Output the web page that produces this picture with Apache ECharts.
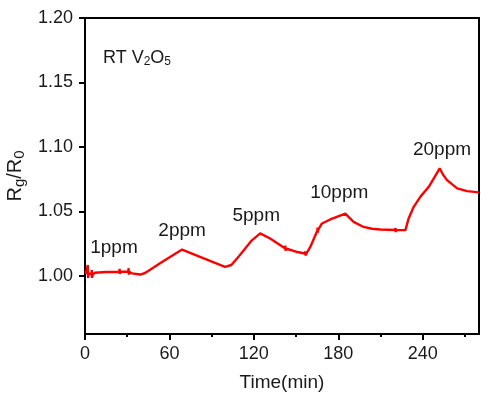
<!DOCTYPE html>
<html>
<head>
<meta charset="utf-8">
<script src="https://cdn.jsdelivr.net/npm/echarts@6/dist/echarts.min.js"></script>
<style>
  html, body { margin: 0; padding: 0; background: #fff; }
  #chart { width: 488px; height: 404px; }
</style>
</head>
<body>
<div id="chart"></div>
<script>
// response curve
var time = [0.5, 1.8, 2.0, 2.2, 2.6, 4.6, 4.8, 5.0, 5.4, 7.0, 15, 24.4, 24.6, 24.8, 25.0,
  30.8, 31.0, 31.2, 31.4, 33.4, 39.3, 42.7, 55, 69, 84, 99.5, 99.7, 99.9, 100.2, 104,
  110, 118, 124.5, 131.6, 142.1, 142.3, 142.5, 142.7, 150, 156.3, 156.5, 156.7, 157.5,
  160.1, 165.1, 165.3, 165.5, 165.7, 168.4, 174.3, 185, 190.9, 198, 204, 209.9, 220.4,
  220.6, 220.8, 221.0, 227.7, 230, 233.6, 238.3, 244.3, 252.1, 254.5, 257.3, 264.5, 271.6, 280];
var ratio = [1.0015, 1.0020, 1.0085, 0.9985, 1.0020, 1.0012, 1.0045, 0.9985, 1.0010, 1.0025, 1.0031, 1.0033, 1.0055, 1.0015, 1.0033,
  1.0035, 1.0060, 1.0010, 1.0033, 1.0020, 1.0011, 1.0023, 1.0110, 1.0205, 1.0138, 1.0070, 1.0085, 1.0058, 1.0070, 1.0085,
  1.0160, 1.0270, 1.0330, 1.0290, 1.0215, 1.0235, 1.0195, 1.0213, 1.0188, 1.0174, 1.0190, 1.0160, 1.0176,
  1.0225, 1.0350, 1.0375, 1.0335, 1.0357, 1.0407, 1.0438, 1.0484, 1.0419, 1.0380, 1.0366, 1.0360, 1.0356,
  1.0372, 1.0340, 1.0356, 1.0355, 1.0446, 1.0536, 1.0613, 1.0691, 1.0834, 1.0785, 1.0743, 1.0679, 1.0658, 1.0648];

// concentration labels (placed in data units)
var annoText = ['1ppm', '2ppm', '5ppm', '10ppm', '20ppm'];
var annoX = [20.6, 69, 121.7, 180.7, 253.7];
var annoY = [1.0215, 1.0347, 1.047, 1.0642, 1.098];

var xTicks = [0, 60, 120, 180, 240];
var xMinor = [30, 90, 150, 210, 270];
var yTicks = [1.00, 1.05, 1.10, 1.15, 1.20];

var font = '"Liberation Sans", Arial, sans-serif';
var ink = '#1a1a1a';

var curve = time.map(function (t, i) { return [t, ratio[i]]; });
var anno = annoText.map(function (s, i) { return { name: s, value: [annoX[i], annoY[i]] }; });

var chart = echarts.init(document.getElementById('chart'));
chart.setOption({
  backgroundColor: '#fff',
  animation: false,
  grid: {
    left: 85, right: 9, top: 18, bottom: 70,
    outerBoundsMode: 'none',
    show: true, borderColor: '#000', borderWidth: 2
  },
  xAxis: [{
    type: 'value', min: 0, max: 280,
    name: 'Time(min)', nameLocation: 'middle', nameGap: 39,
    nameTextStyle: { fontFamily: font, fontSize: 19, color: ink },
    axisLine: { show: true, lineStyle: { color: '#000', width: 2 } },
    axisTick: { show: true, customValues: xTicks, length: 6, lineStyle: { color: '#000', width: 2 } },
    axisLabel: { customValues: xTicks, margin: 11, fontFamily: font, fontSize: 18, color: ink },
    splitLine: { show: false }
  }, {
    // minor ticks only
    type: 'value', min: 0, max: 280, position: 'bottom', gridIndex: 0,
    axisLine: { show: false },
    axisTick: { show: true, customValues: xMinor, length: 3, lineStyle: { color: '#000', width: 2 } },
    axisLabel: { show: false },
    splitLine: { show: false }
  }],
  yAxis: {
    type: 'value', min: 0.955, max: 1.2,
    name: 'R{sub|g}/R{sub|0}', nameLocation: 'middle', nameGap: 54, nameRotate: 90,
    nameTextStyle: {
      fontFamily: font, fontSize: 20, color: ink,
      rich: { sub: { fontFamily: font, fontSize: 15, color: ink, padding: [8, 0, 0, 0] } }
    },
    axisLine: { show: true, lineStyle: { color: '#000', width: 2 } },
    axisTick: { show: true, customValues: yTicks, length: 6, lineStyle: { color: '#000', width: 2 } },
    axisLabel: {
      customValues: yTicks, margin: 12, fontFamily: font, fontSize: 18, color: ink,
      formatter: function (v) { return v.toFixed(2); }
    },
    splitLine: { show: false }
  },
  graphic: [{
    type: 'text', left: 103, top: 49,
    style: {
      text: 'RT V{sub|2}O{sub|5}',
      fontFamily: font, fontSize: 18, fill: ink,
      rich: { sub: { fontFamily: font, fontSize: 12, fill: ink, padding: [8, 0, 0, 0] } }
    }
  }],
  series: [{
    type: 'line',
    data: curve,
    showSymbol: false,
    lineStyle: { color: '#ff0000', width: 2.4 },
    z: 3
  }, {
    type: 'scatter',
    data: anno,
    symbolSize: 0,
    itemStyle: { opacity: 1 },
    label: {
      show: true, position: 'inside', formatter: '{b}',
      fontFamily: font, fontSize: 19, color: ink, opacity: 1,
      textBorderWidth: 0
    }
  }]
});
</script>
</body>
</html>
